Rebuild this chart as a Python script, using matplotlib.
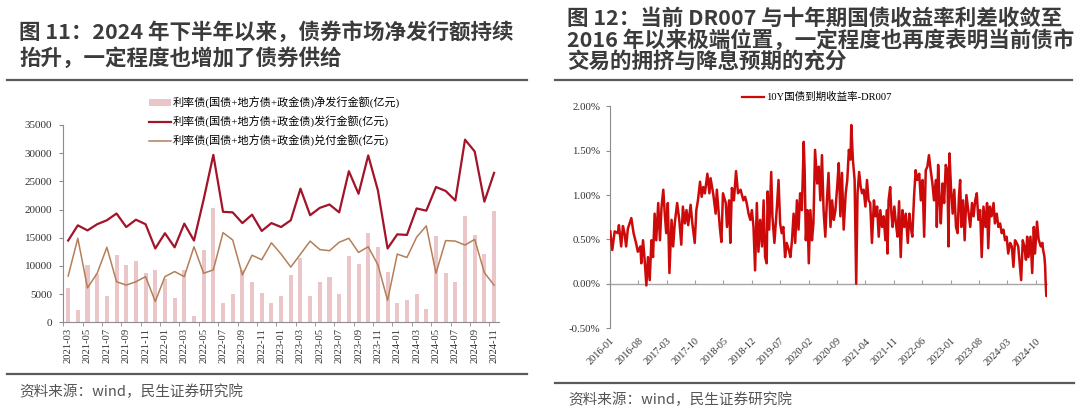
import matplotlib
matplotlib.use("Agg")
import matplotlib.pyplot as plt
import matplotlib.dates as mdates
from matplotlib.ticker import FuncFormatter, FixedLocator
from matplotlib.lines import Line2D
from matplotlib.patches import Patch
import pandas as pd

plt.rcParams['font.family'] = ['Liberation Serif', 'Noto Sans CJK SC', 'DejaVu Sans']

# ---------------- data: left chart (亿元) ----------------
months = [p.strftime('%Y-%m') for p in pd.period_range('2021-03', '2024-11', freq='M')]
net_issue = [6100, 2200, 10100, 8600, 4700, 11900, 10200, 10800, 8800, 9200,
             7600, 4300, 9300, 1100, 12900, 20200, 3500, 5100, 9200, 7100,
             5200, 3500, 4700, 8400, 11400, 4600, 7200, 8100, 5100, 11800,
             10400, 15900, 13300, 9000, 3500, 3900, 5100, 2400, 15300, 8800,
             7200, 18800, 15500, 12200, 19700]
issue = [14500, 17200, 16300, 17400, 18100, 19300, 16900, 18200, 17400, 13100,
         15800, 13300, 17500, 14500, 21800, 29700, 19600, 19500, 17600, 19100,
         16200, 17600, 16900, 18100, 23700, 19000, 20300, 20900, 19500, 26800,
         22800, 29600, 23400, 13100, 15600, 15500, 20200, 19800, 24000, 23300,
         21600, 32400, 30300, 21400, 26500]
redeem = [8200, 14900, 6100, 8700, 13300, 7200, 6600, 7200, 8100, 3700,
          8100, 9000, 8100, 13400, 8700, 9300, 15900, 14600, 8400, 11900,
          11100, 14100, 12100, 9800, 12100, 14400, 12900, 12700, 14200, 14900,
          12400, 13400, 10200, 3900, 12100, 11500, 15100, 17100, 8700, 14500,
          14400, 13700, 14700, 8800, 6600]
left_labels = ['利率债(国债+地方债+政金债)净发行金额(亿元)',
               '利率债(国债+地方债+政金债)发行金额(亿元)',
               '利率债(国债+地方债+政金债)兑付金额(亿元)']

# ---------------- data: right chart (%) ----------------
spread_dates = [
 '2016-01-03','2016-01-18','2016-02-05','2016-02-28','2016-03-08','2016-03-25','2016-04-07','2016-04-19',
 '2016-05-01','2016-05-14','2016-06-09','2016-06-26','2016-07-16','2016-07-28','2016-08-16','2016-08-23',
 '2016-09-05','2016-09-17','2016-09-30','2016-10-12','2016-10-25','2016-11-07','2016-11-19','2016-12-01',
 '2016-12-13','2016-12-28','2017-01-10','2017-01-22','2017-02-04','2017-02-15','2017-02-26','2017-03-10',
 '2017-03-22','2017-04-07','2017-04-19','2017-05-01','2017-05-19','2017-06-04','2017-06-19','2017-07-01',
 '2017-07-16','2017-07-28','2017-08-10','2017-08-28','2017-09-10','2017-09-28','2017-10-10','2017-10-22',
 '2017-11-07','2017-11-19','2017-12-01','2017-12-13','2018-01-01','2018-01-16','2018-01-25','2018-02-15',
 '2018-03-04','2018-03-13','2018-04-04','2018-04-16','2018-04-28','2018-05-19','2018-05-28','2018-06-13',
 '2018-06-22','2018-07-04','2018-07-19','2018-08-04','2018-08-19','2018-09-07','2018-09-28','2018-10-11',
 '2018-10-23','2018-11-06','2018-11-19','2018-12-01','2018-12-13','2018-12-25','2019-01-07','2019-01-19',
 '2019-02-01','2019-02-15','2019-02-27','2019-03-10','2019-03-22','2019-03-29','2019-04-10','2019-04-25',
 '2019-05-04','2019-05-19','2019-06-07','2019-06-19','2019-07-01','2019-07-13','2019-07-25','2019-08-07',
 '2019-08-19','2019-09-04','2019-09-16','2019-09-28','2019-10-10','2019-10-22','2019-11-04','2019-11-16',
 '2019-11-28','2019-12-11','2019-12-25','2020-01-01','2020-01-10','2020-01-22','2020-02-01','2020-02-13',
 '2020-02-25','2020-03-07','2020-03-19','2020-04-04','2020-04-16','2020-04-28','2020-05-10','2020-05-22',
 '2020-06-04','2020-06-16','2020-06-28','2020-07-13','2020-07-25','2020-08-07','2020-08-19','2020-09-01',
 '2020-09-13','2020-09-25','2020-10-07','2020-10-20','2020-11-04','2020-11-16','2020-11-28','2020-12-10',
 '2020-12-16','2020-12-28','2021-01-10','2021-01-22','2021-02-01','2021-02-13','2021-02-25','2021-03-07',
 '2021-03-19','2021-04-01','2021-04-13','2021-04-25','2021-05-07','2021-05-20','2021-06-04','2021-06-16',
 '2021-06-28','2021-07-10','2021-07-22','2021-08-04','2021-08-16','2021-08-29','2021-09-10','2021-09-14',
 '2021-09-22','2021-10-04','2021-10-13','2021-10-22','2021-11-04','2021-11-16','2021-11-28','2021-12-10',
 '2021-12-22','2022-01-04','2022-01-17','2022-01-29','2022-02-13','2022-02-25','2022-03-07','2022-03-19',
 '2022-04-01','2022-04-13','2022-04-25','2022-05-10','2022-05-22','2022-06-04','2022-06-16','2022-06-28',
 '2022-07-10','2022-07-22','2022-08-04','2022-08-17','2022-08-29','2022-09-13','2022-09-19','2022-09-29',
 '2022-10-10','2022-10-19','2022-11-01','2022-11-13','2022-11-25','2022-12-07','2022-12-16','2022-12-23',
 '2023-01-04','2023-01-16','2023-01-28','2023-02-10','2023-02-22','2023-03-04','2023-03-13','2023-03-22',
 '2023-04-04','2023-04-16','2023-04-29','2023-05-13','2023-05-28','2023-06-10','2023-06-22','2023-07-04',
 '2023-07-16','2023-07-28','2023-08-10','2023-08-22','2023-09-04','2023-09-19','2023-10-01','2023-10-10',
 '2023-10-22','2023-11-04','2023-11-19','2023-11-29','2023-12-13','2023-12-25','2024-01-07','2024-01-19',
 '2024-02-01','2024-02-13','2024-02-25','2024-03-08','2024-03-22','2024-04-04','2024-04-16','2024-04-28',
 '2024-05-10','2024-05-22','2024-06-02','2024-06-13','2024-06-25','2024-07-07','2024-07-19','2024-07-28',
 '2024-08-07','2024-08-22','2024-09-04','2024-09-16','2024-09-25','2024-10-10','2024-10-22','2024-11-07',
 '2024-11-19','2024-11-25','2024-12-04','2024-12-10','2024-12-13','2024-12-19','2024-12-22']
spread_vals = [
 0.59, 0.38, 0.59, 0.57, 0.66, 0.42, 0.65, 0.57,
 0.42, 0.62, 0.74, 0.57, 0.45, 0.36, 0.42, 0.23,
 0.49, 0.27, -0.02, 0.30, 0.04, 0.49, 0.30, 0.79,
 0.49, 0.91, 0.49, 0.87, 1.06, 0.79, 0.57, 0.91,
 0.12, 0.72, 0.42, 0.68, 0.91, 0.72, 0.44, 0.87,
 0.68, 0.83, 0.66, 0.89, 0.68, 0.46, 0.83, 0.94,
 1.15, 0.98, 1.09, 1.02, 1.24, 1.02, 1.19, 1.00,
 0.79, 1.06, 0.64, 0.47, 1.02, 0.91, 0.64, 0.94,
 0.46, 1.08, 0.94, 1.27, 1.02, 1.06, 0.94, 0.98,
 0.91, 0.79, 0.72, 0.83, 0.64, 0.15, 0.91, 0.36,
 0.72, 0.42, 0.94, 0.30, 0.23, 1.04, 0.61, 1.26,
 0.76, 0.46, 0.87, 1.17, 0.68, 0.57, 0.64, 0.30,
 0.46, 0.38, 0.30, 0.49, 0.79, 0.46, 0.94, 0.61,
 1.02, 0.83, 1.60, 1.28, 0.49, 0.83, 0.23, 0.83,
 0.49, 0.68, 1.51, 1.13, 1.32, 0.94, 1.45, 0.83,
 0.53, 0.94, 1.25, 0.64, 0.94, 0.72, 0.83, 1.09,
 1.36, 0.76, 1.25, 0.61, 1.02, 1.17, 1.51, 1.40,
 1.79, 1.40, 1.17, 0.00, 1.02, 1.26, 1.09, 1.02,
 1.06, 0.87, 1.17, 0.94, 0.91, 0.46, 0.94, 0.76,
 0.87, 0.53, 0.83, 0.64, 0.76, 0.49, 0.83, 0.34,
 0.94, 1.09, 0.79, 0.64, 0.87, 0.68, 0.53, 0.93,
 0.30, 0.83, 0.64, 0.79, 0.46, 0.79, 0.64, 0.53,
 0.98, 1.28, 1.17, 1.24, 0.94, 1.17, 0.53, 1.28,
 1.32, 1.45, 1.28, 1.13, 0.94, 1.17, 0.64, 1.34,
 0.94, 0.68, 1.13, 0.91, 1.34, 1.28, 0.42, 1.47,
 1.06, 0.79, 1.06, 0.64, 0.57, 0.98, 1.17, 0.64,
 0.94, 0.49, 1.00, 0.83, 0.64, 0.91, 0.76, 0.94,
 1.02, 0.72, 0.83, 0.30, 0.87, 0.64, 0.91, 0.40,
 0.87, 0.76, 0.91, 0.68, 0.79, 0.64, 0.68, 0.57,
 0.61, 0.49, 0.53, 0.34, 0.46, 0.42, 0.19, 0.49,
 0.46, 0.42, 0.23, 0.04, 0.49, 0.42, 0.27, 0.53,
 0.30, 0.53, 0.12, 0.64, 0.34, 0.70, 0.50, 0.42,
 0.46, 0.38, 0.31, 0.20, 0.05, -0.14, -0.07]
right_label = '10Y国债到期收益率-DR007'
right_ticks = [d.strftime('%Y-%m') for d in pd.date_range('2016-01-01', '2024-10-01', freq='7MS')]

titles_left = ['图 11：2024 年下半年以来，债券市场净发行额持续', '抬升，一定程度也增加了债券供给']
titles_right = ['图 12：当前 DR007 与十年期国债收益率利差收敛至',
                '2016 年以来极端位置，一定程度也再度表明当前债市',
                '交易的拥挤与降息预期的充分']
source = '资料来源：wind，民生证券研究院'

# ---------------- styling ----------------
W, H = 1080, 407
C_ISSUE = '#A3142A'
C_REDEEM = '#B47F58'
C_BAR = '#EBC6C9'
C_SPREAD = '#CC0A0A'
C_AXIS = '#8C8C8C'
C_TXT = '#333333'
C_TITLE = '#3B3B3B'
CJK = ['Noto Sans CJK SC', 'DejaVu Sans']


def rect(x0, y0, x1, y1):
    return [x0 / W, 1 - y1 / H, (x1 - x0) / W, (y1 - y0) / H]


fig = plt.figure(figsize=(W / 100, H / 100), dpi=100)
fig.patch.set_facecolor('white')

# ---------------- left chart ----------------
ax1 = fig.add_axes(rect(63.3, 125, 498.9, 322.3))
x = list(range(len(months)))
ax1.bar(x, net_issue, width=0.42, color=C_BAR, zorder=1)
ax1.plot(x, issue, color=C_ISSUE, lw=1.6, zorder=3)
ax1.plot(x, redeem, color=C_REDEEM, lw=1.1, zorder=2)
ax1.set_xlim(-0.5, len(months) - 0.5)
ax1.set_ylim(0, 35000)
ax1.set_yticks(range(0, 35001, 5000))
ax1.set_xticks(x[::2])
ax1.set_xticklabels(months[::2], rotation=90, fontsize=7.6, color=C_TXT)
ax1.xaxis.set_minor_locator(FixedLocator([i + 1.5 for i in range(-2, len(months), 2)]))
ax1.tick_params(axis='x', which='major', length=0, pad=4)
ax1.tick_params(axis='x', which='minor', length=3, color=C_AXIS, direction='out')
ax1.tick_params(axis='y', length=3, color=C_AXIS, labelsize=8, labelcolor=C_TXT, pad=5)
for s in ['top', 'right']:
    ax1.spines[s].set_visible(False)
for s in ['left', 'bottom']:
    ax1.spines[s].set_color(C_AXIS)
    ax1.spines[s].set_linewidth(0.8)

handles = [Patch(facecolor=C_BAR, edgecolor='none'),
           Line2D([], [], color=C_ISSUE, lw=1.6),
           Line2D([], [], color=C_REDEEM, lw=1.1)]
ax1.legend(handles, left_labels, loc='upper left', bbox_to_anchor=(149 / W, 1 - 96.5 / H),
           bbox_transform=fig.transFigure, frameon=False, fontsize=8, handlelength=2.0,
           handleheight=0.55, handletextpad=0.15, labelspacing=0.62, borderpad=0, borderaxespad=0)

# ---------------- right chart ----------------
ax2 = fig.add_axes(rect(610, 106.4, 1047, 328))
dts = pd.to_datetime(spread_dates)
ax2.plot(dts, spread_vals, color=C_SPREAD, lw=1.8, zorder=3)
ax2.set_ylim(-0.5, 2.0)
ax2.set_yticks([-0.5, 0, 0.5, 1.0, 1.5, 2.0])
ax2.yaxis.set_major_formatter(FuncFormatter(lambda v, p: f'{v:.2f}%'))
ax2.set_xlim(pd.Timestamp('2016-01-01'), pd.Timestamp('2024-12-24'))
tick_pos = pd.to_datetime(right_ticks)
ax2.set_xticks(tick_pos)
ax2.set_xticklabels(right_ticks, rotation=45, ha='right', rotation_mode='anchor',
                    fontsize=7.4, color=C_TXT)
ax2.tick_params(axis='x', length=0, pad=6)
ax2.tick_params(axis='y', length=3, color=C_AXIS, labelsize=7.8, labelcolor=C_TXT, pad=4)
for s in ['top', 'right', 'bottom']:
    ax2.spines[s].set_visible(False)
ax2.spines['left'].set_color(C_AXIS)
ax2.spines['left'].set_linewidth(0.8)

sec = ax2.secondary_xaxis(0.2)
sec.set_xticks(mdates.date2num(tick_pos))
sec.tick_params(axis='x', direction='in', length=3, color='#A0A0A0', labelbottom=False)
sec.spines['bottom'].set_color('#A6A6A6')
sec.spines['bottom'].set_linewidth(1.0)
sec.set_zorder(1)

ax2.legend([Line2D([], [], color=C_SPREAD, lw=1.6)], [right_label], loc='upper left',
           bbox_to_anchor=(742 / W, 1 - 92 / H), bbox_transform=fig.transFigure,
           frameon=False, fontsize=7.6, handlelength=2.1, handletextpad=0.2,
           borderpad=0, borderaxespad=0)

# ---------------- titles, rules, sources ----------------
for i, t in enumerate(titles_left):
    fig.text(19 / W, 1 - (32 + 25.5 * i) / H, t, family=CJK, fontsize=15.5,
             fontweight='bold', color=C_TITLE, va='center', ha='left')
for i, t in enumerate(titles_right):
    fig.text(567 / W, 1 - (18 + 21.7 * i) / H, t, family=CJK, fontsize=15.5,
             fontweight='bold', color=C_TITLE, va='center', ha='left')

fig.add_artist(Line2D([7 / W, 527 / W], [1 - 79.5 / H] * 2, color='#5A5A5A', lw=1.6))
fig.add_artist(Line2D([555 / W, 1072 / W], [1 - 79.5 / H] * 2, color='#5A5A5A', lw=1.6))
fig.add_artist(Line2D([7 / W, 527 / W], [1 - 374 / H] * 2, color='#5A5A5A', lw=1.6))
fig.add_artist(Line2D([555 / W, 1074 / W], [1 - 382.5 / H] * 2, color='#5A5A5A', lw=1.6))

fig.text(19 / W, 1 - 391.5 / H, source, family=CJK, fontsize=10.5, color='#555555',
         va='center', ha='left')
fig.text(568 / W, 1 - 399.5 / H, source, family=CJK, fontsize=10.5, color='#555555',
         va='center', ha='left')

fig.savefig('out.png', dpi=100, facecolor='white')
